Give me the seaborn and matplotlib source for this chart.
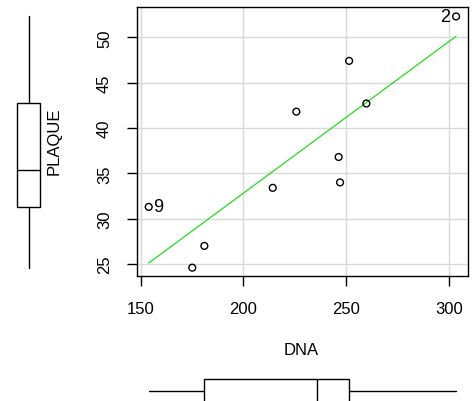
import numpy as np
import pandas as pd
import matplotlib
matplotlib.use("Agg")
import matplotlib.pyplot as plt
import seaborn as sns

# values (row order keeps the labelled cases 2 and 9)
dna = [247.1, 303.6, 225.8, 181.0, 251.5, 214.3, 259.9, 175.1, 153.9, 246.4]
plaque = [34.0, 52.3, 41.8, 27.0, 47.4, 33.4, 42.7, 24.6, 31.3, 36.8]
labelled = [2, 9]
x_ticks = [150, 200, 250, 300]
y_ticks = [25, 30, 35, 40, 45, 50]

df = pd.DataFrame({"DNA": dna, "PLAQUE": plaque})

sns.set_style("white")
plt.rcParams["font.family"] = ["Liberation Sans", "DejaVu Sans"]
plt.rcParams["font.size"] = 12
plt.rcParams["text.color"] = "black"
plt.rcParams["axes.labelcolor"] = "black"
plt.rcParams["xtick.color"] = "black"
plt.rcParams["ytick.color"] = "black"


def fivenum_stats(values):
    # Tukey hinges, like R's boxplot
    v = np.sort(np.asarray(values, dtype=float))
    n = len(v)
    n4 = np.floor((n + 3) / 2) / 2
    idx = np.array([1, n4, (n + 1) / 2, n + 1 - n4, n]) - 1
    q = 0.5 * (v[np.floor(idx).astype(int)] + v[np.ceil(idx).astype(int)])
    return dict(whislo=q[0], q1=q[1], med=q[2], q3=q[3], whishi=q[4], fliers=[])


W, H = 472, 402
fig = plt.figure(figsize=(W / 100, H / 100), dpi=100)

left, right, top, bottom = 137, 468, 8, 277
ax = fig.add_axes([left / W, 1 - bottom / H, (right - left) / W, (bottom - top) / H])
ax_y = fig.add_axes([0, 1 - bottom / H, 57 / W, (bottom - top) / H], sharey=ax)
ax_x = fig.add_axes([left / W, 1 - 413 / H, (right - left) / W, 43 / H], sharex=ax)

# main scatter + least squares line
ax.grid(True, color="#d9d9d9", lw=1)
ax.set_axisbelow(True)
sns.regplot(data=df, x="DNA", y="PLAQUE", ax=ax, ci=None, scatter=False,
            line_kws=dict(color="#22dd22", lw=0.9, zorder=2))
sns.scatterplot(data=df, x="DNA", y="PLAQUE", ax=ax, marker="o", s=24,
                facecolors="none", edgecolors="black", linewidth=1, zorder=3)

for i in labelled:
    xv, yv = dna[i - 1], plaque[i - 1]
    if i == 2:
        ax.annotate(str(i), (xv, yv), xytext=(-4, 0), textcoords="offset points",
                    ha="right", va="center", fontsize=13)
    else:
        ax.annotate(str(i), (xv, yv), xytext=(3, 0), textcoords="offset points",
                    ha="left", va="center", fontsize=13)

ax.set_xlim(148.2, 309.4)
ax.set_ylim(23.68, 53.34)
ax.set_xticks(x_ticks)
ax.set_yticks(y_ticks)
for s in ax.spines.values():
    s.set_visible(True)
    s.set_color("black")
    s.set_linewidth(1)
ax.tick_params(axis="both", direction="out", length=7, width=1, color="black",
               labelcolor="black", pad=11, labelsize=12, bottom=True, left=True)
for lab in ax.get_yticklabels():
    lab.set_rotation(90)
    lab.set_va("center")
ax.set_xlabel("DNA", fontsize=12, color="black")
ax.set_ylabel("PLAQUE", fontsize=12, color="black")
ax.xaxis.set_label_coords(0.495, -0.244)
ax.yaxis.set_label_coords(-0.227, 0.506)

# marginal boxplots
box_style = dict(showcaps=False, patch_artist=True,
                 boxprops=dict(facecolor="white", edgecolor="black", lw=1),
                 whiskerprops=dict(color="black", lw=1),
                 medianprops=dict(color="black", lw=1))
ax_y.bxp([fivenum_stats(plaque)], positions=[0.5], widths=[0.4], vert=True, **box_style)
ax_y.set_xlim(0, 1)
ax_y.axis("off")

ax_x.bxp([fivenum_stats(dna)], positions=[0.5], widths=[0.535], vert=False, **box_style)
ax_x.set_ylim(0, 1)
ax_x.axis("off")

fig.savefig("out.png", dpi=100)
